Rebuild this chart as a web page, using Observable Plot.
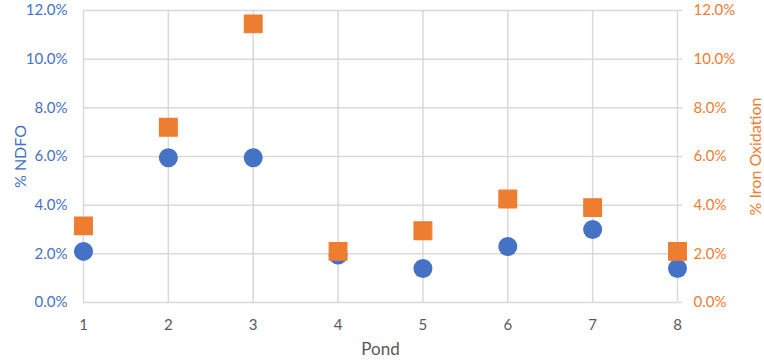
<!DOCTYPE html>
<html>
<head>
<meta charset="utf-8">
<script src="https://cdn.jsdelivr.net/npm/d3@7"></script>
<script src="https://cdn.jsdelivr.net/npm/@observablehq/plot@0.6"></script>
<style>
  html, body { margin: 0; padding: 0; background: #fff; }
</style>
</head>
<body>
<div id="chart"></div>
<script>
const ponds = [1, 2, 3, 4, 5, 6, 7, 8];
const ndfo = [2.1, 5.95, 5.95, 1.95, 1.4, 2.3, 3.0, 1.4];
const ironOxidation = [3.15, 7.2, 11.45, 2.1, 2.95, 4.25, 3.9, 2.1];
const yTicks = [0, 2, 4, 6, 8, 10, 12];

const blue = "#4472C4";
const orange = "#ED7D31";
const grid = "#d9d9d9";

const ndfoData = ponds.map((p, i) => ({pond: p, value: ndfo[i]}));
const ironData = ponds.map((p, i) => ({pond: p, value: ironOxidation[i]}));
const fmt = d => d.toFixed(1) + "%";

const chart = Plot.plot({
  width: 764,
  height: 362,
  marginLeft: 83,
  marginRight: 87,
  marginTop: 10,
  marginBottom: 60,
  style: {fontFamily: "Lato, 'Open Sans', sans-serif", fontSize: "15px", background: "#fff"},
  x: {domain: [1, 8]},
  y: {domain: [0, 12]},
  marks: [
    Plot.gridX(ponds, {stroke: grid, strokeOpacity: 1, strokeWidth: 1.5}),
    Plot.gridY(yTicks, {stroke: grid, strokeOpacity: 1, strokeWidth: 1.5}),
    Plot.axisX(ponds, {tickSize: 0, tickPadding: 17, fill: "#595959", label: null, fontSize: 15}),
    Plot.axisY(yTicks, {anchor: "left", tickSize: 0, tickPadding: 16, tickFormat: fmt, fill: blue, label: null, fontSize: 15}),
    Plot.axisY(yTicks, {anchor: "right", tickSize: 4, stroke: grid, strokeWidth: 1.5, tickPadding: 12, tickFormat: fmt, fill: orange, label: null, fontSize: 15}),
    Plot.dot(ndfoData, {x: "pond", y: "value", r: 9.5, fill: blue, symbol: "circle"}),
    Plot.dot(ironData, {x: "pond", y: "value", r: 10, fill: orange, stroke: orange, strokeWidth: 1.2, strokeLinejoin: "round", symbol: "square"}),
    Plot.text(["% NDFO"], {frameAnchor: "left", dx: -63, rotate: -90, textAnchor: "middle", fill: blue, fontSize: 16}),
    Plot.text(["% Iron Oxidation"], {frameAnchor: "right", dx: 78, rotate: -90, textAnchor: "middle", fill: orange, fontSize: 16}),
    Plot.text(["Pond"], {frameAnchor: "bottom", dy: 52, fill: "#595959", fontSize: 17})
  ]
});
document.getElementById("chart").appendChild(chart);
</script>
</body>
</html>
